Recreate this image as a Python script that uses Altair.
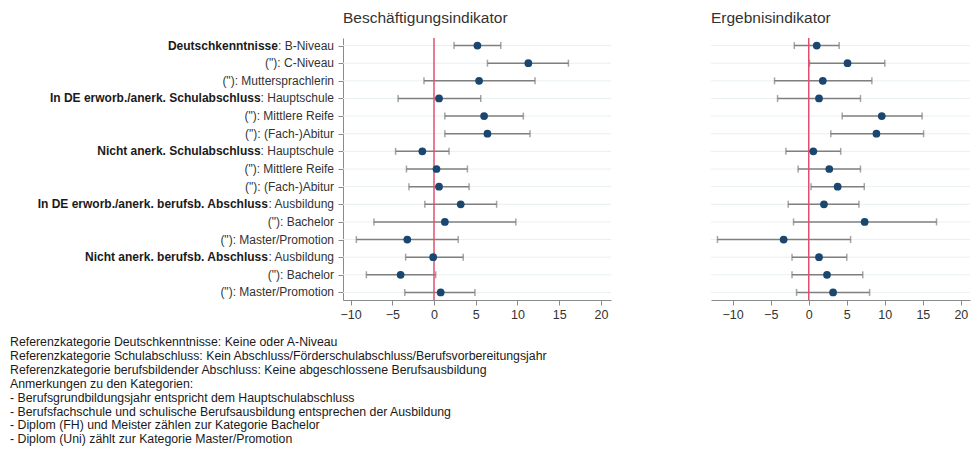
import altair as alt
import pandas as pd

# ---------------- data ----------------
rows = list(range(1, 16))
label_bold = [
    "Deutschkenntnisse", "", "",
    "In DE erworb./anerk. Schulabschluss", "", "",
    "Nicht anerk. Schulabschluss", "", "",
    "In DE erworb./anerk. berufsb. Abschluss", "", "",
    "Nicht anerk. berufsb. Abschluss", "", "",
]
label_rest = [
    ": B-Niveau", '("): C-Niveau', '("): Muttersprachlerin',
    ": Hauptschule", '("): Mittlere Reife', '("): (Fach-)Abitur',
    ": Hauptschule", '("): Mittlere Reife', '("): (Fach-)Abitur',
    ": Ausbildung", '("): Bachelor', '("): Master/Promotion',
    ": Ausbildung", '("): Bachelor', '("): Master/Promotion',
]

# Beschäftigungsindikator
emp_coef = [5.2, 11.3, 5.4, 0.6, 6.0, 6.4, -1.4, 0.3, 0.6, 3.2, 1.3, -3.2, -0.1, -4.0, 0.8]
emp_lo   = [2.4, 6.4, -1.2, -4.3, 1.3, 1.3, -4.6, -3.3, -3.0, -1.1, -7.2, -9.3, -3.4, -8.1, -3.5]
emp_hi   = [8.0, 16.1, 12.1, 5.6, 10.7, 11.5, 1.8, 4.0, 4.2, 7.5, 9.8, 2.9, 3.5, 0.2, 4.9]

# Ergebnisindikator
res_coef = [1.05, 5.1, 1.85, 1.35, 9.6, 8.9, 0.6, 2.7, 3.8, 2.0, 7.35, -3.3, 1.35, 2.4, 3.2]
res_lo   = [-1.9, 0.1, -4.5, -4.1, 4.4, 2.9, -3.0, -1.4, 0.3, -2.7, -2.0, -12.0, -2.2, -2.2, -1.6]
res_hi   = [4.0, 10.0, 8.3, 6.8, 14.9, 15.1, 4.2, 6.8, 7.3, 6.6, 16.8, 5.5, 5.0, 7.1, 8.0]

x_ticks = [-10, -5, 0, 5, 10, 15, 20]
panel_titles = ["Beschäftigungsindikator", "Ergebnisindikator"]
footnote = [
    "Referenzkategorie Deutschkenntnisse: Keine oder A-Niveau",
    "Referenzkategorie Schulabschluss: Kein Abschluss/Förderschulabschluss/Berufsvorbereitungsjahr",
    "Referenzkategorie berufsbildender Abschluss: Keine abgeschlossene Berufsausbildung",
    "Anmerkungen zu den Kategorien:",
    "- Berufsgrundbildungsjahr entspricht dem Hauptschulabschluss",
    "- Berufsfachschule und schulische Berufsausbildung entsprechen der Ausbildung",
    "- Diplom (FH) und Meister zählen zur Kategorie Bachelor",
    "- Diplom (Uni) zählt zur Kategorie Master/Promotion",
]

# ---------------- styling ----------------
FONT = "Liberation Sans"
LABEL_SIZE = 12
NAVY = "#1a476f"
GREY = "#7f7f7f"
RED = "#e0506e"
GRID = "#e8f0f2"
AXIS = "#8a8a8a"

PLOT_W = 628
PLOT_H = 262
LEFT_DOM = [-10.9, 21.2]
LEFT_RANGE = [0, 268]
RIGHT_DOM = [-12.85, 21.2]
RIGHT_RANGE = [368, 627]
LABEL_GAP = 9

# Arial / Liberation Sans regular advance widths (1/1000 em)
AW = {
    " ": 278, "!": 278, '"': 355, "(": 333, ")": 333, "-": 333, ".": 278, "/": 278, ":": 278,
    "A": 667, "B": 667, "C": 722, "D": 722, "E": 667, "F": 611, "G": 778, "H": 722, "I": 278,
    "J": 500, "K": 667, "L": 556, "M": 833, "N": 722, "O": 778, "P": 667, "Q": 778, "R": 722,
    "S": 667, "T": 611, "U": 722, "V": 667, "W": 944, "X": 667, "Y": 667, "Z": 611,
    "a": 556, "b": 556, "c": 500, "d": 556, "e": 556, "f": 278, "g": 556, "h": 556, "i": 222,
    "j": 222, "k": 500, "l": 222, "m": 833, "n": 556, "o": 556, "p": 556, "q": 556, "r": 333,
    "s": 500, "t": 278, "u": 556, "v": 500, "w": 722, "x": 500, "y": 500, "z": 500,
}


def text_width(s, size):
    return sum(AW.get(ch, 556) for ch in s) * size / 1000.0


emp = pd.DataFrame({"row": rows, "coef": emp_coef, "lo": emp_lo, "hi": emp_hi})
res = pd.DataFrame({"row": rows, "coef": res_coef, "lo": res_lo, "hi": res_hi})
lab = pd.DataFrame({
    "row": rows,
    "bold": label_bold,
    "rest": label_rest,
    "bold_x": [-LABEL_GAP - text_width(r, LABEL_SIZE) for r in label_rest],
})

yscale = alt.Scale(type="point", padding=0.43)


def panel(df, dom, rng, title, show_y_axis):
    xs = alt.Scale(domain=dom, range=rng, nice=False, zero=False)
    xaxis = alt.Axis(values=x_ticks, grid=False, title=None, domainColor=AXIS,
                     tickColor=AXIS, tickSize=5, labelFontSize=12.5, labelColor="#333333",
                     labelFont=FONT, labelPadding=3, orient="bottom")
    if show_y_axis:
        yaxis = alt.Axis(labels=False, ticks=True, tickSize=5, domain=True, grid=False,
                         title=None, domainColor=AXIS, tickColor=AXIS, orient="left")
    else:
        yaxis = None
    y = alt.Y("row:O", scale=yscale, axis=yaxis)
    base = alt.Chart(df)

    grid = base.mark_rule(color=GRID, strokeWidth=1).encode(
        x=alt.XDatum(dom[0], scale=xs, axis=xaxis), x2=alt.X2Datum(dom[1]), y=y)
    ci = base.mark_rule(color=GREY, strokeWidth=1.5).encode(
        x=alt.X("lo:Q", scale=xs, axis=xaxis), x2="hi:Q", y=y)
    cap_lo = base.mark_tick(color=GREY, orient="vertical", size=7, thickness=1.5).encode(
        x=alt.X("lo:Q", scale=xs, axis=xaxis), y=y)
    cap_hi = base.mark_tick(color=GREY, orient="vertical", size=7, thickness=1.5).encode(
        x=alt.X("hi:Q", scale=xs, axis=xaxis), y=y)
    zero = alt.Chart(pd.DataFrame({"z": [0]})).mark_rule(color=RED, strokeWidth=1.5).encode(
        x=alt.X("z:Q", scale=xs, axis=xaxis))
    pts = base.mark_circle(color=NAVY, opacity=1, size=60).encode(
        x=alt.X("coef:Q", scale=xs, axis=xaxis), y=y)
    ttl = alt.Chart(pd.DataFrame({"t": [title]})).mark_text(
        align="left", baseline="middle", fontSize=15.5, font=FONT, color="#333333").encode(
        x=alt.XDatum(dom[0], scale=xs, axis=xaxis), y=alt.value(-20), text="t:N")
    return alt.layer(grid, ci, cap_lo, cap_hi, zero, pts, ttl)


left = panel(emp, LEFT_DOM, LEFT_RANGE, panel_titles[0], True)
right = panel(res, RIGHT_DOM, RIGHT_RANGE, panel_titles[1], False)

lab_rest = alt.Chart(lab).mark_text(
    align="right", baseline="middle", fontSize=LABEL_SIZE, font=FONT, color="#333333").encode(
    x=alt.value(-LABEL_GAP), y=alt.Y("row:O", scale=yscale, axis=None), text="rest:N")
lab_bold = alt.Chart(lab).mark_text(
    align="right", baseline="middle", fontSize=LABEL_SIZE, font=FONT, fontWeight="bold",
    color="#1a1a1a").encode(
    x=alt.X("bold_x:Q", scale=None), y=alt.Y("row:O", scale=yscale, axis=None), text="bold:N")

foot = alt.Chart(pd.DataFrame({"k": [0]})).mark_text(
    align="left", baseline="top", fontSize=12.3, font=FONT, color="#1a1a1a",
    lineHeight=13.9).encode(
    x=alt.value(-333), y=alt.value(298), text=alt.value(footnote))

chart = alt.layer(left, right, lab_rest, lab_bold, foot).resolve_scale(
    x="independent").resolve_axis(x="independent", y="independent").properties(
    width=PLOT_W, height=PLOT_H,
    autosize=alt.AutoSizeParams(type="none"),
    padding={"left": 335, "top": 30, "right": 0, "bottom": 148},
    background="white",
).configure_view(stroke=None)

chart.save("out.html", embed_options={"renderer": "svg", "actions": False})
